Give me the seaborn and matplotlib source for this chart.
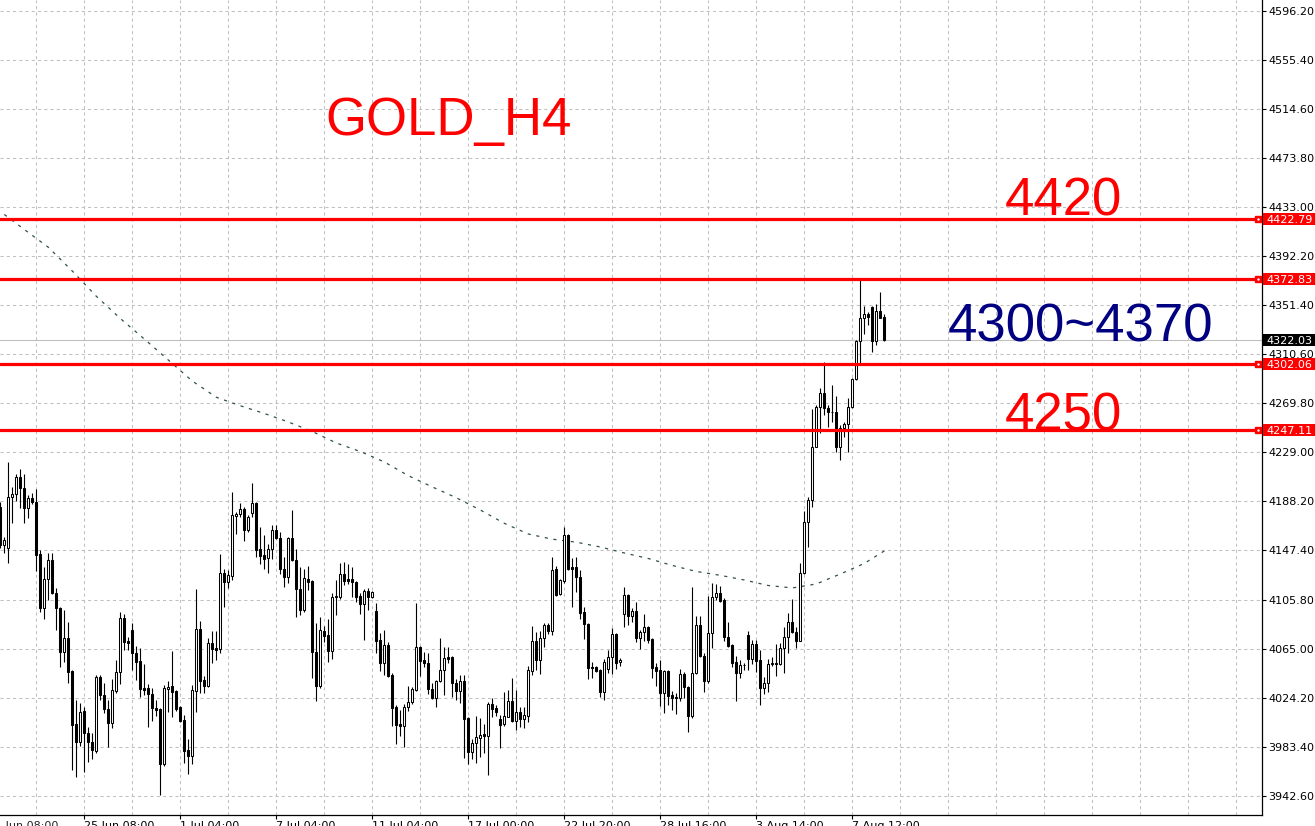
import pandas as pd
import matplotlib
matplotlib.use('Agg')
import matplotlib.pyplot as plt
import matplotlib.transforms as mtrans
from matplotlib.patches import Rectangle
import seaborn as sns

# H4 candles (bar index 0 = first bar on the left)
opens = [4183.2, 4151.6, 4149.1, 4191.5, 4194.0, 4208.2, 4199.0, 4182.4, 4190.7, 4187.4,
         4144.1, 4099.1, 4123.3, 4139.1, 4111.6, 4099.1, 4062.5, 4074.1, 4046.6, 4002.5,
         3987.5, 4013.3, 3995.0, 3987.5, 3980.0, 4041.6, 4026.7, 4015.0, 4003.3, 4030.0,
         4045.8, 4090.8, 4071.6, 4080.8, 4061.6, 4055.0, 4032.5, 4032.5, 4027.5, 4015.8,
         4015.0, 3969.2, 4031.7, 4034.1, 4030.0, 4016.7, 4005.8, 3980.9, 3975.9, 4030.0,
         4081.6, 4039.2, 4034.1, 4070.0, 4065.8, 4065.0, 4128.2, 4120.8, 4125.8, 4175.7,
         4177.4, 4181.5, 4164.1, 4178.2, 4186.5, 4148.2, 4143.2, 4140.7, 4148.2, 4164.1,
         4157.4, 4131.6, 4124.9, 4157.4, 4139.1, 4114.9, 4097.4, 4123.3, 4121.6, 4062.5,
         4034.1, 4080.0, 4076.6, 4063.3, 4108.3, 4108.3, 4127.4, 4123.3, 4123.3, 4120.8,
         4109.1, 4102.4, 4113.3, 4108.3, 4096.6, 4072.5, 4053.3, 4068.3, 4043.3, 4016.7,
         4002.5, 4000.8, 4016.7, 4020.8, 4030.8, 4066.6, 4055.8, 4053.3, 4031.7, 4024.2,
         4038.3, 4047.5, 4058.3, 4058.3, 4036.7, 4030.0, 4038.3, 4007.5, 3979.2, 3986.7,
         3990.8, 3994.2, 3992.5, 4019.2, 4015.8, 4006.7, 4002.5, 4008.3, 4021.7, 4005.0,
         4012.5, 4006.7, 4009.2, 4046.6, 4071.6, 4055.8, 4074.1, 4084.9, 4080.0, 4131.6,
         4110.8, 4121.6, 4159.9, 4133.2, 4133.2, 4124.9, 4095.8, 4085.8, 4050.0, 4050.0,
         4047.5, 4029.2, 4048.3, 4058.3, 4077.5, 4054.1, 4094.1, 4109.9, 4092.5, 4096.6,
         4074.1, 4079.1, 4083.3, 4073.3, 4050.0, 4047.5, 4028.3, 4046.6, 4026.7, 4025.0,
         4024.2, 4044.1, 4033.3, 4009.2, 4045.0, 4084.9, 4059.1, 4038.3, 4078.3, 4108.3,
         4111.6, 4105.8, 4074.9, 4068.3, 4054.1, 4045.0, 4051.6, 4076.6, 4056.6, 4069.1,
         4055.8, 4032.5, 4036.7, 4052.5, 4053.3, 4052.5, 4065.8, 4074.9, 4087.4, 4079.1,
         4071.6, 4128.2, 4170.7, 4189.0, 4233.2, 4266.5, 4278.1, 4265.6, 4262.3, 4262.3,
         4233.2, 4249.0, 4252.3, 4266.5, 4289.8, 4321.4, 4340.6, 4343.9, 4349.8, 4321.4,
         4346.4, 4341.4]
highs = [4187.4, 4158.2, 4220.7, 4199.9, 4210.7, 4214.8, 4210.7, 4193.2, 4194.9, 4198.2,
         4147.4, 4133.2, 4144.9, 4144.9, 4115.8, 4099.9, 4097.4, 4087.4, 4047.4, 4022.5,
         4020.0, 4016.7, 4000.0, 3995.0, 4043.3, 4043.3, 4036.7, 4022.5, 4039.9, 4055.8,
         4095.8, 4094.1, 4074.9, 4086.6, 4067.5, 4065.8, 4052.5, 4035.8, 4032.5, 4022.5,
         4015.8, 4035.0, 4038.3, 4063.3, 4030.8, 4017.5, 4010.0, 3990.0, 4035.0, 4114.9,
         4088.3, 4042.5, 4074.1, 4080.0, 4080.0, 4144.1, 4131.6, 4130.8, 4195.7, 4179.0,
         4186.5, 4183.2, 4176.6, 4203.2, 4187.4, 4166.5, 4159.9, 4152.4, 4168.2, 4168.2,
         4162.4, 4141.6, 4158.2, 4180.7, 4148.2, 4133.2, 4131.6, 4134.1, 4122.4, 4086.6,
         4091.6, 4084.1, 4090.0, 4111.6, 4122.4, 4136.6, 4137.4, 4135.7, 4133.2, 4121.6,
         4111.6, 4114.9, 4115.8, 4113.3, 4103.3, 4078.3, 4080.8, 4070.8, 4045.0, 4018.3,
         4014.2, 4019.2, 4034.1, 4033.3, 4103.3, 4067.5, 4062.5, 4061.6, 4036.7, 4039.2,
         4074.1, 4066.6, 4066.6, 4059.1, 4039.9, 4043.3, 4043.3, 4008.3, 3990.0, 4009.2,
         4007.5, 4002.5, 4020.8, 4024.2, 4018.3, 4010.0, 4029.2, 4030.8, 4040.8, 4030.8,
         4016.7, 4016.7, 4050.8, 4084.1, 4079.1, 4080.0, 4086.6, 4086.6, 4141.6, 4134.1,
         4123.3, 4166.5, 4160.7, 4140.7, 4141.6, 4130.8, 4100.0, 4086.6, 4054.1, 4050.8,
         4048.3, 4056.6, 4064.1, 4082.4, 4078.3, 4057.5, 4116.6, 4110.8, 4099.1, 4104.1,
         4080.8, 4094.1, 4084.1, 4074.1, 4053.3, 4055.8, 4047.5, 4047.5, 4030.0, 4028.3,
         4048.3, 4045.8, 4034.1, 4116.6, 4092.5, 4092.5, 4061.6, 4109.1, 4119.9, 4119.1,
         4117.4, 4107.5, 4087.4, 4069.1, 4059.1, 4055.8, 4053.3, 4080.0, 4072.5, 4072.5,
         4064.1, 4041.6, 4056.6, 4058.3, 4069.1, 4070.0, 4083.3, 4095.0, 4106.6, 4083.3,
         4136.6, 4179.9, 4191.5, 4264.8, 4268.1, 4282.3, 4304.0, 4268.1, 4284.8, 4275.6,
         4251.5, 4254.0, 4274.0, 4290.6, 4322.3, 4372.8, 4350.6, 4345.6, 4350.6, 4352.3,
         4362.2, 4343.9]
lows = [4149.1, 4144.9, 4136.6, 4169.9, 4188.2, 4182.4, 4169.9, 4174.0, 4185.7, 4129.9,
        4095.8, 4090.0, 4105.8, 4110.8, 4080.8, 4050.0, 4054.1, 4036.7, 3964.2, 3958.4,
        3984.2, 3962.5, 3970.9, 3973.4, 3978.4, 4022.5, 4011.7, 3983.4, 3999.2, 4028.3,
        4035.8, 4064.1, 4064.1, 4047.5, 4039.2, 4025.0, 4026.7, 4000.0, 4005.0, 4009.2,
        3943.4, 3967.5, 4012.5, 4008.3, 4013.3, 4004.2, 3970.0, 3960.9, 3969.2, 4012.5,
        4028.3, 4028.3, 4033.3, 4053.3, 4055.8, 4061.6, 4100.0, 4115.8, 4122.4, 4160.7,
        4174.9, 4154.9, 4162.4, 4174.9, 4141.6, 4135.7, 4131.6, 4128.2, 4139.9, 4156.6,
        4127.4, 4116.6, 4119.9, 4138.2, 4091.6, 4093.3, 4095.8, 4114.1, 4040.8, 4021.7,
        4032.5, 4070.8, 4054.1, 4056.6, 4093.3, 4106.6, 4118.3, 4119.1, 4108.3, 4104.1,
        4094.1, 4072.5, 4097.4, 4107.5, 4061.6, 4046.6, 4043.3, 4041.6, 4000.8, 3985.9,
        3992.5, 3983.4, 4013.3, 4019.2, 4030.0, 4042.5, 4050.0, 4027.5, 4023.4, 4016.7,
        4037.5, 4026.7, 4053.3, 4025.0, 4022.5, 4020.0, 3974.2, 3969.2, 3973.4, 3970.0,
        3975.0, 3978.4, 3960.0, 4008.3, 4009.2, 3982.5, 4000.8, 4008.3, 4004.2, 3997.5,
        4000.0, 3999.2, 4004.2, 4043.3, 4047.5, 4044.1, 4066.6, 4077.5, 4076.6, 4109.1,
        4109.9, 4119.9, 4130.8, 4100.0, 4112.4, 4090.0, 4073.3, 4040.0, 4040.8, 4045.8,
        4025.0, 4022.5, 4045.0, 4044.1, 4048.3, 4051.0, 4083.3, 4084.9, 4087.4, 4070.8,
        4065.0, 4071.6, 4070.0, 4040.8, 4034.1, 4017.5, 4011.7, 4018.3, 4014.2, 4010.8,
        4021.7, 4024.2, 3996.2, 4007.5, 4044.1, 4058.3, 4029.2, 4036.7, 4065.8, 4105.8,
        4104.1, 4071.6, 4066.6, 4050.0, 4021.7, 4040.8, 4047.5, 4047.5, 4052.5, 4045.8,
        4018.3, 4027.5, 4029.2, 4050.8, 4042.5, 4051.6, 4045.0, 4061.6, 4078.3, 4065.8,
        4071.2, 4127.8, 4149.9, 4183.2, 4232.8, 4244.8, 4259.8, 4249.8, 4254.0, 4229.0,
        4222.3, 4241.5, 4229.0, 4265.6, 4289.0, 4303.1, 4327.3, 4334.8, 4312.3, 4318.1,
        4340.2, 4321.2]
closes = [4151.6, 4155.7, 4191.5, 4194.0, 4208.2, 4199.0, 4182.4, 4190.7, 4187.4, 4143.2,
          4099.1, 4123.3, 4139.1, 4111.6, 4099.1, 4062.5, 4074.1, 4045.8, 4001.7, 3987.5,
          4012.5, 3995.0, 3987.5, 3980.9, 4041.6, 4026.7, 4015.0, 4003.3, 4030.8, 4045.8,
          4090.8, 4070.8, 4070.0, 4061.6, 4054.1, 4031.7, 4030.8, 4027.5, 4015.8, 4014.2,
          3969.2, 4032.5, 4033.3, 4029.2, 4015.0, 4005.0, 3980.0, 3975.9, 4030.8, 4081.6,
          4038.3, 4034.1, 4070.0, 4065.0, 4064.1, 4128.2, 4120.8, 4126.6, 4176.6, 4177.4,
          4181.5, 4164.1, 4174.9, 4186.5, 4147.4, 4142.4, 4139.9, 4148.2, 4164.1, 4157.4,
          4131.6, 4124.9, 4157.4, 4139.1, 4114.9, 4097.4, 4124.1, 4120.8, 4062.5, 4034.1,
          4080.8, 4075.8, 4063.3, 4108.3, 4109.1, 4127.4, 4121.6, 4121.6, 4120.8, 4108.3,
          4102.4, 4113.3, 4108.3, 4112.4, 4071.6, 4053.3, 4068.3, 4042.5, 4015.8, 4001.7,
          4000.8, 4016.7, 4020.8, 4031.7, 4066.6, 4055.0, 4053.3, 4031.7, 4024.2, 4038.3,
          4047.5, 4057.5, 4056.6, 4036.7, 4030.0, 4038.3, 4006.7, 3979.2, 3986.7, 3991.7,
          3993.4, 3992.5, 4019.2, 4015.0, 4012.5, 4001.7, 4009.2, 4021.7, 4005.0, 4012.5,
          4006.7, 4010.0, 4047.5, 4071.6, 4055.8, 4074.1, 4084.9, 4080.0, 4130.8, 4109.9,
          4122.4, 4159.9, 4131.6, 4131.6, 4124.9, 4095.0, 4085.8, 4049.1, 4049.1, 4046.6,
          4029.2, 4054.1, 4058.3, 4077.5, 4053.3, 4055.8, 4109.9, 4092.5, 4096.6, 4074.1,
          4079.1, 4083.3, 4072.5, 4049.1, 4046.6, 4028.3, 4046.6, 4025.8, 4024.2, 4024.2,
          4044.1, 4033.3, 4009.2, 4045.0, 4084.9, 4059.1, 4038.3, 4078.3, 4108.3, 4111.6,
          4104.9, 4074.9, 4067.5, 4053.3, 4045.0, 4051.6, 4051.8, 4056.6, 4069.1, 4055.0,
          4032.5, 4036.7, 4052.5, 4053.3, 4052.5, 4065.8, 4074.9, 4087.4, 4079.1, 4071.6,
          4128.2, 4170.7, 4189.0, 4233.2, 4266.5, 4278.1, 4265.6, 4262.3, 4262.6, 4233.2,
          4249.0, 4252.3, 4266.5, 4289.8, 4321.4, 4340.6, 4343.9, 4341.4, 4321.4, 4346.4,
          4340.6, 4322.0]

# moving average (dotted line), read at a few bars
ma_bar = [1, 6, 12, 18, 24, 30, 36, 42, 48, 54, 60, 66, 72, 78, 84, 90, 96, 102, 108,
          114, 120, 126, 132, 138, 144, 150, 156, 162, 168, 174, 180, 186, 192, 198,
          204, 210, 216, 221]
ma_vals = [4426.8, 4414.3, 4399.5, 4379.7, 4358.7, 4340.2, 4323.1, 4305.6, 4288.1,
           4274.6, 4267.5, 4261.1, 4254.0, 4246.1, 4236.5, 4229.4, 4220.7, 4209.3,
           4199.9, 4190.9, 4180.7, 4169.6, 4160.7, 4156.4, 4153.9, 4149.9, 4144.9,
           4140.3, 4134.5, 4129.5, 4126.3, 4122.4, 4117.8, 4115.8, 4119.1, 4127.4,
           4136.2, 4146.6]

levels = [4422.79, 4372.83, 4302.06, 4247.11]
last_price = 4322.03

price_ticks = [4596.20, 4555.40, 4514.60, 4473.80, 4433.00, 4392.20, 4351.40, 4310.60,
               4269.80, 4229.00, 4188.20, 4147.40, 4105.80, 4065.00, 4024.20, 3983.40,
               3942.60]
time_bars = [21, 45, 69, 93, 117, 141, 165, 189, 213]
time_labels = ['25 Jun 08:00', '1 Jul 04:00', '7 Jul 04:00', '11 Jul 04:00', '17 Jul 00:00',
               '22 Jul 20:00', '28 Jul 16:00', '3 Aug 14:00', '7 Aug 12:00']
first_label = '21 Jun 08:00'

df = pd.DataFrame({'open': opens, 'high': highs, 'low': lows, 'close': closes})
df['bar'] = range(len(df))
ma = pd.DataFrame({'bar': ma_bar, 'ma': ma_vals})

sns.set_style('white')
plt.rcParams['font.family'] = ['DejaVu Sans']

W, H = 1315, 826
fig = plt.figure(figsize=(W / 100, H / 100), dpi=100)
ax = fig.add_axes([0, 11 / H, 1261.5 / W, 815 / H])
ax.set_xlim(-0.075, 315.3)
ax.set_ylim(3926.7, 4605.4)

# grid
grid_kw = dict(color='#c0c0c0', lw=0.75, ls=(0, (3, 3)))
ax.set_xticks(time_bars)
ax.set_xticks(range(9, 315, 12), minor=True)
ax.set_yticks(price_ticks)
ax.grid(True, which='both', axis='x', **grid_kw)
ax.grid(True, which='major', axis='y', **grid_kw)
ax.set_axisbelow(True)

# last price line
ax.axhline(last_price, color='#c0c0c0', lw=0.8, zorder=1)

# moving average
sns.lineplot(data=ma, x='bar', y='ma', ax=ax, color='#2f4f4f', lw=0.9,
             linestyle=(0, (2.5, 4.5)), zorder=2)

# candles
up = df['close'] >= df['open']
ax.vlines(df['bar'], df['low'], df['high'], color='black', lw=0.8, zorder=3)
body_bottom = df[['open', 'close']].min(axis=1)
body_h = (df['close'] - df['open']).abs().clip(lower=0.15)
ax.bar(df['bar'], body_h, bottom=body_bottom, width=0.55,
       color=['white' if u else 'black' for u in up],
       edgecolor='black', linewidth=0.75, zorder=4)

# support / resistance lines
for lv in levels:
    ax.axhline(lv, color='#ff0000', lw=2.3, zorder=5)

# spines and ticks
for s in ['top', 'left']:
    ax.spines[s].set_visible(False)
for s in ['right', 'bottom']:
    ax.spines[s].set_color('black')
    ax.spines[s].set_linewidth(0.9)
ax.yaxis.tick_right()
ax.set_yticklabels([f'{v:.2f}' for v in price_ticks])
ax.set_xticklabels(time_labels)
ax.tick_params(axis='y', which='major', direction='out', length=3, width=0.8, pad=2,
               labelsize=8, colors='black', right=True, left=False)
ax.tick_params(axis='x', which='major', direction='out', length=3, width=0.8, pad=1.5,
               labelsize=8, colors='black', bottom=True)
ax.tick_params(axis='x', which='minor', length=0)
plt.setp(ax.get_xticklabels(), ha='left')
ax.set_xlabel('')
ax.set_ylabel('')

# partly hidden first time label
lab_tr = mtrans.offset_copy(ax.get_xaxis_transform(), fig=fig, y=-4.5, units='points')
ax.text(-3, 0, first_label, transform=lab_tr, fontsize=8, ha='left', va='top',
        clip_on=False)

# price boxes on the axis
box_tr = mtrans.blended_transform_factory(fig.transFigure, ax.transData)
edge_tr = mtrans.blended_transform_factory(ax.transAxes, ax.transData)
half = 5.8 * (4605.4 - 3926.7) / 815
for lv, fc in [(v, '#ff0000') for v in levels] + [(last_price, 'black')]:
    ax.add_patch(Rectangle((1262.5 / W, lv - half), 52.5 / W, 2 * half, transform=box_tr,
                           facecolor=fc, edgecolor='none', clip_on=False, zorder=10))
    ax.text(1266 / W, lv, f'{lv:.2f}', transform=box_tr, color='white', fontsize=8,
            ha='left', va='center_baseline', clip_on=False, zorder=11)
for lv in levels:
    ax.plot([0.9975], [lv], transform=edge_tr, marker='s', ms=4.5, color='#ff0000',
            clip_on=False, zorder=6)
    ax.plot([0.9975], [lv], transform=edge_tr, marker='.', ms=1.5, color='white',
            clip_on=False, zorder=7)

# chart notes
note_kw = dict(fontsize=38, family=['Liberation Sans', 'DejaVu Sans'], va='baseline',
               ha='left', zorder=8)
ax.text(81.3, 4492.9, 'GOLD_H4', color='#ff0000', **note_kw)
ax.text(251.1, 4426.3, '4420', color='#ff0000', **note_kw)
ax.text(236.9, 4321.4, '4300~4370', color='#000080', **note_kw)
ax.text(251.1, 4246.5, '4250', color='#ff0000', **note_kw)

fig.savefig('out.png', dpi=100)
